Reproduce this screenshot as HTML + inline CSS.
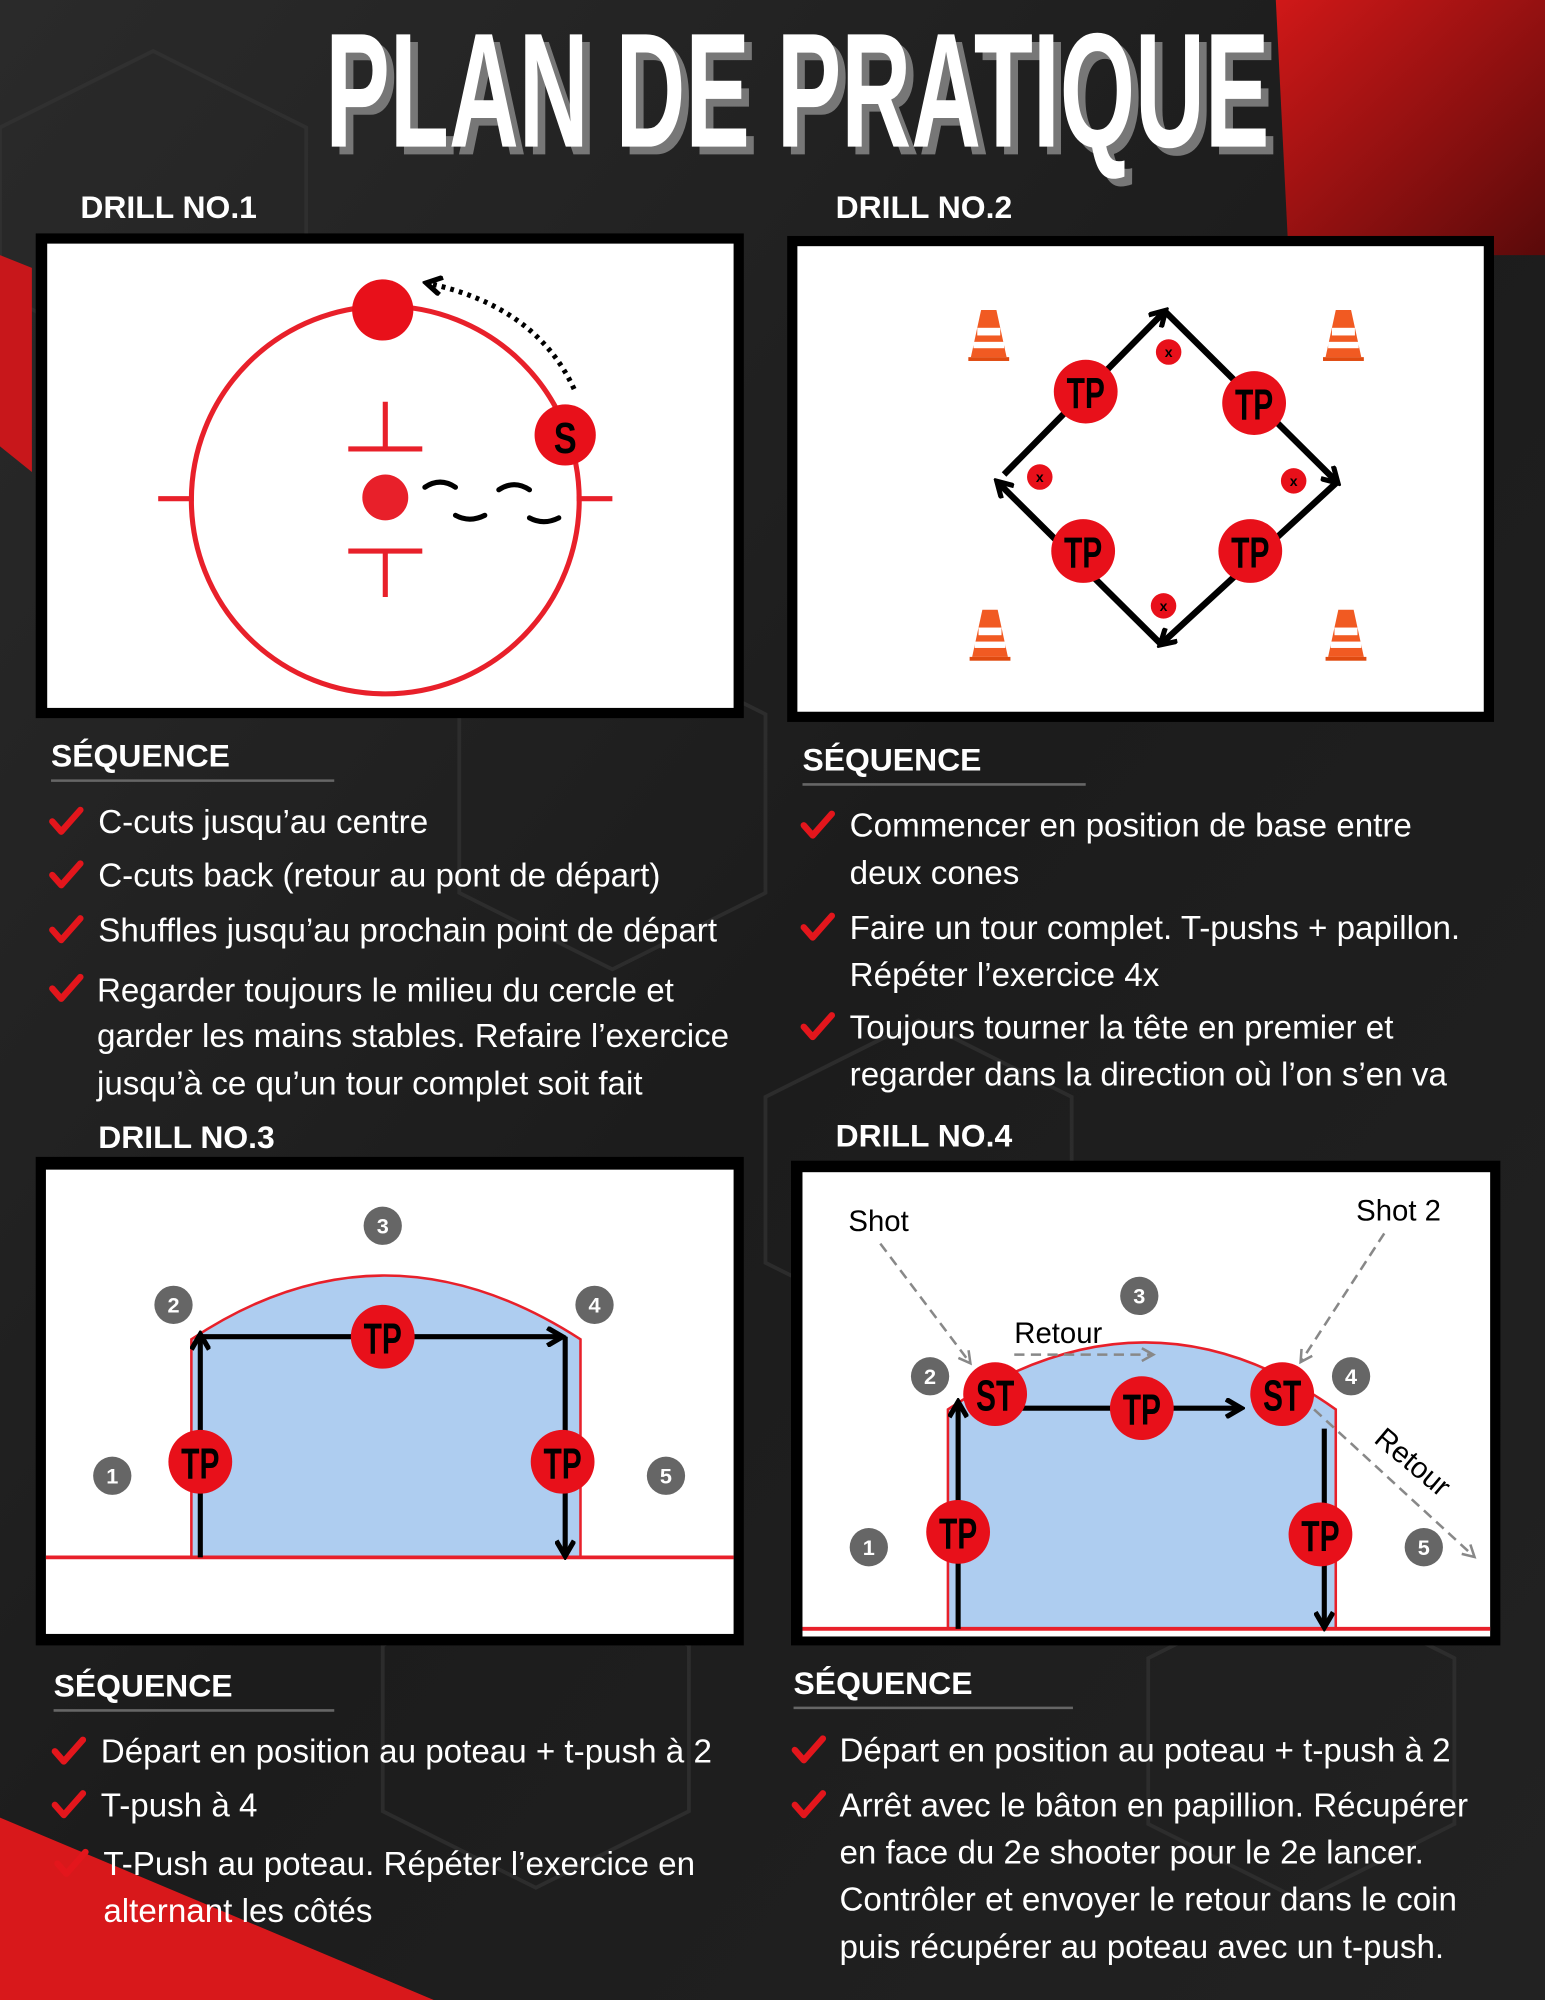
<!DOCTYPE html>
<html><head><meta charset="utf-8"><style>
html,body{margin:0;padding:0;background:#1b1b1b;}
svg{display:block;}
text{font-family:"Liberation Sans",sans-serif;}
</style></head><body>
<svg width="1545" height="2000" viewBox="0 0 1211 1568" preserveAspectRatio="none" xmlns="http://www.w3.org/2000/svg">
<defs>
<linearGradient id="bg" x1="0" y1="0" x2="1" y2="1">
<stop offset="0" stop-color="#2a2a2a"/><stop offset="0.5" stop-color="#1c1c1c"/><stop offset="1" stop-color="#222"/>
</linearGradient>
<linearGradient id="rtr" x1="0" y1="0" x2="1" y2="1">
<stop offset="0" stop-color="#d01818"/><stop offset="1" stop-color="#5a0a0a"/>
</linearGradient>
<marker id="ab" markerWidth="16" markerHeight="16" refX="12" refY="8" orient="auto" markerUnits="userSpaceOnUse"><path d="M1,1 L13,8 L1,15" fill="none" stroke="#000" stroke-width="4"/></marker>
<marker id="ag" markerWidth="12" markerHeight="12" refX="9" refY="6" orient="auto" markerUnits="userSpaceOnUse"><path d="M1,1 L10,6 L1,11" fill="none" stroke="#888" stroke-width="2"/></marker>
<g id="chk"><path d="M-11,-1 L-4,7 L11,-10" fill="none" stroke="#e3161c" stroke-width="5" stroke-linecap="round" stroke-linejoin="round"/></g>
<g id="cone"><path d="M-6,-22 L6,-22 L14,15 L-14,15Z" fill="#f15a22"/><rect x="-9" y="-8" width="18" height="6" fill="#fff"/><rect x="-12" y="3" width="24" height="5" fill="#fff"/><rect x="-16" y="15" width="32" height="3" fill="#e04a10"/></g>
</defs>
<rect width="1211" height="1568" fill="url(#bg)"/>
<g fill="none" stroke="#333" stroke-width="3" opacity="0.7">
<path d="M0,100 L120,40 L240,100 L240,230 L120,290 L0,230Z"/>
<path d="M360,560 L480,500 L600,560 L600,700 L480,760 L360,700Z"/>
<path d="M600,860 L720,800 L840,860 L840,990 L720,1050 L600,990Z"/>
<path d="M300,1290 L420,1230 L540,1290 L540,1420 L420,1480 L300,1420Z"/>
<path d="M900,1300 L1020,1240 L1140,1300 L1140,1430 L1020,1490 L900,1430Z"/>
</g>
<path d="M1000,0 L1211,0 L1211,200 L1010,200Z" fill="url(#rtr)"/>
<path d="M0,200 L25,210 L25,370 L0,350Z" fill="#c8171b"/>
<path d="M0,1425 L340,1568 L0,1568Z" fill="#d8181b"/>
<!-- title -->
<text x="631" y="121" text-anchor="middle" font-size="128" font-weight="bold" fill="#777" textLength="740" lengthAdjust="spacingAndGlyphs">PLAN DE PRATIQUE</text>
<text x="625" y="115" text-anchor="middle" font-size="128" font-weight="bold" fill="#fff" textLength="740" lengthAdjust="spacingAndGlyphs">PLAN DE PRATIQUE</text>
<!-- labels -->
<g font-size="25" font-weight="bold" fill="#fff">
<text x="63" y="171">DRILL NO.1</text>
<text x="655" y="171">DRILL NO.2</text>
<text x="77" y="900">DRILL NO.3</text>
<text x="655" y="899">DRILL NO.4</text>
<text x="40" y="601">SÉQUENCE</text>
<text x="629" y="604">SÉQUENCE</text>
<text x="42" y="1330">SÉQUENCE</text>
<text x="622" y="1328">SÉQUENCE</text>
</g>
<g stroke="#666" stroke-width="2">
<line x1="40" y1="612" x2="262" y2="612"/><line x1="629" y1="615" x2="851" y2="615"/>
<line x1="42" y1="1341" x2="262" y2="1341"/><line x1="622" y1="1339" x2="841" y2="1339"/>
</g>
<!-- boxes -->
<rect x="28" y="183" width="555" height="380" fill="#000"/><rect x="37" y="191" width="538" height="364" fill="#fff"/>
<rect x="617" y="185" width="554" height="381" fill="#000"/><rect x="625" y="193" width="538" height="365" fill="#fff"/>
<rect x="28" y="907" width="555" height="383" fill="#000"/><rect x="36" y="917" width="539" height="364" fill="#fff"/>
<rect x="620" y="910" width="556" height="380" fill="#000"/><rect x="629" y="919" width="539" height="364" fill="#fff"/>
<!-- drill1 -->
<g stroke="#e8202a" stroke-width="4" fill="none">
<circle cx="302" cy="392" r="152"/>
<line x1="124" y1="391" x2="152" y2="391"/><line x1="452" y1="391" x2="480" y2="391"/>
<line x1="273" y1="352" x2="331" y2="352"/><line x1="302" y1="315" x2="302" y2="352"/>
<line x1="273" y1="432" x2="331" y2="432"/><line x1="302" y1="432" x2="302" y2="468"/>
</g>
<circle cx="300" cy="243" r="24" fill="#e8101a"/>
<circle cx="302" cy="390" r="18" fill="#e8202a"/>
<circle cx="443" cy="341" r="24" fill="#e8101a"/>
<text x="443" y="355" text-anchor="middle" font-size="34" font-weight="bold" fill="#000" textLength="18" lengthAdjust="spacingAndGlyphs">S</text>
<path d="M450,305 Q420,240 335,222" fill="none" stroke="#000" stroke-width="4" stroke-dasharray="3,4" marker-end="url(#ab)"/>
<g fill="none" stroke="#000" stroke-width="4" stroke-linecap="round">
<path d="M333,382 Q345,374 357,382"/><path d="M357,404 Q368,410 380,404"/>
<path d="M391,384 Q403,376 415,384"/><path d="M415,406 Q426,412 438,406"/>
</g>
<!-- drill2 -->
<g stroke="#000" stroke-width="5" fill="none" marker-end="url(#ab)">
<line x1="787" y1="372" x2="913" y2="244"/>
<line x1="913" y1="244" x2="1048" y2="378"/>
<line x1="1048" y1="378" x2="910" y2="505"/>
<line x1="910" y1="505" x2="782" y2="378"/>
</g>
<g fill="#e8101a">
<circle cx="851" cy="307" r="25"/><circle cx="983" cy="316" r="25"/><circle cx="849" cy="432" r="25"/><circle cx="980" cy="432" r="25"/>
<circle cx="916" cy="276" r="10"/><circle cx="815" cy="374" r="10"/><circle cx="1014" cy="377" r="10"/><circle cx="912" cy="475" r="10"/>
</g>
<g font-size="34" font-weight="bold" fill="#000" text-anchor="middle">
<text x="851" y="320" textLength="30" lengthAdjust="spacingAndGlyphs">TP</text>
<text x="983" y="329" textLength="30" lengthAdjust="spacingAndGlyphs">TP</text>
<text x="849" y="445" textLength="30" lengthAdjust="spacingAndGlyphs">TP</text>
<text x="980" y="445" textLength="30" lengthAdjust="spacingAndGlyphs">TP</text>
</g>
<g font-size="11" font-weight="bold" fill="#000" text-anchor="middle">
<text x="916" y="280">x</text><text x="815" y="378">x</text><text x="1014" y="381">x</text><text x="912" y="479">x</text>
</g>
<use href="#cone" x="775" y="265"/><use href="#cone" x="1053" y="265"/><use href="#cone" x="776" y="500"/><use href="#cone" x="1055" y="500"/>
<!-- drill3 -->
<path d="M150,1221 L150,1050 Q300,950 455,1050 L455,1221Z" fill="#aecdf0" stroke="#e8202a" stroke-width="2"/>
<line x1="36" y1="1221" x2="575" y2="1221" stroke="#e8202a" stroke-width="3"/>
<g stroke="#000" stroke-width="4" fill="none">
<line x1="157" y1="1221" x2="157" y2="1047" marker-end="url(#ab)"/>
<line x1="157" y1="1048" x2="440" y2="1048" marker-end="url(#ab)"/>
<line x1="443" y1="1048" x2="443" y2="1219" marker-end="url(#ab)"/>
</g>
<g fill="#e8101a"><circle cx="300" cy="1048" r="25"/><circle cx="157" cy="1146" r="25"/><circle cx="441" cy="1146" r="25"/></g>
<g font-size="34" font-weight="bold" fill="#000" text-anchor="middle">
<text x="300" y="1061" textLength="30" lengthAdjust="spacingAndGlyphs">TP</text>
<text x="157" y="1159" textLength="30" lengthAdjust="spacingAndGlyphs">TP</text>
<text x="441" y="1159" textLength="30" lengthAdjust="spacingAndGlyphs">TP</text>
</g>
<g fill="#666"><circle cx="300" cy="961" r="15"/><circle cx="136" cy="1023" r="15"/><circle cx="466" cy="1023" r="15"/><circle cx="88" cy="1157" r="15"/><circle cx="522" cy="1157" r="15"/></g>
<g font-size="17" font-weight="bold" fill="#fff" text-anchor="middle">
<text x="300" y="967">3</text><text x="136" y="1029">2</text><text x="466" y="1029">4</text><text x="88" y="1163">1</text><text x="522" y="1163">5</text>
</g>
<!-- drill4 -->
<path d="M743,1277 L743,1105 Q900,1000 1047,1105 L1047,1277Z" fill="#aecdf0" stroke="#e8202a" stroke-width="2"/>
<line x1="629" y1="1277" x2="1168" y2="1277" stroke="#e8202a" stroke-width="3"/>
<g stroke="#000" stroke-width="4" fill="none">
<line x1="751" y1="1277" x2="751" y2="1100" marker-end="url(#ab)"/>
<line x1="800" y1="1104" x2="972" y2="1104" marker-end="url(#ab)"/>
<line x1="1038" y1="1120" x2="1038" y2="1275" marker-end="url(#ab)"/>
</g>
<g stroke="#888" stroke-width="2" fill="none" stroke-dasharray="8,5">
<line x1="690" y1="975" x2="760" y2="1068" marker-end="url(#ag)"/>
<line x1="1085" y1="967" x2="1020" y2="1067" marker-end="url(#ag)"/>
<line x1="795" y1="1062" x2="903" y2="1062" marker-end="url(#ag)"/>
<line x1="1030" y1="1105" x2="1155" y2="1220" marker-end="url(#ag)"/>
</g>
<g fill="#e8101a"><circle cx="780" cy="1093" r="25"/><circle cx="1005" cy="1093" r="25"/><circle cx="895" cy="1104" r="25"/><circle cx="751" cy="1201" r="25"/><circle cx="1035" cy="1203" r="25"/></g>
<g font-size="34" font-weight="bold" fill="#000" text-anchor="middle">
<text x="780" y="1106" textLength="30" lengthAdjust="spacingAndGlyphs">ST</text>
<text x="1005" y="1106" textLength="30" lengthAdjust="spacingAndGlyphs">ST</text>
<text x="895" y="1117" textLength="30" lengthAdjust="spacingAndGlyphs">TP</text>
<text x="751" y="1214" textLength="30" lengthAdjust="spacingAndGlyphs">TP</text>
<text x="1035" y="1216" textLength="30" lengthAdjust="spacingAndGlyphs">TP</text>
</g>
<g fill="#666"><circle cx="893" cy="1016" r="15"/><circle cx="729" cy="1079" r="15"/><circle cx="1059" cy="1079" r="15"/><circle cx="681" cy="1213" r="15"/><circle cx="1116" cy="1213" r="15"/></g>
<g font-size="17" font-weight="bold" fill="#fff" text-anchor="middle">
<text x="893" y="1022">3</text><text x="729" y="1085">2</text><text x="1059" y="1085">4</text><text x="681" y="1219">1</text><text x="1116" y="1219">5</text>
</g>
<g font-size="23" fill="#000">
<text x="665" y="965">Shot</text><text x="1063" y="957">Shot 2</text><text x="795" y="1053">Retour</text>
<text transform="translate(1076,1130) rotate(40)">Retour</text>
</g>
<!-- bullets -->
<g font-size="26" fill="#fff">
<text x="77" y="653">C-cuts jusqu’au centre</text>
<text x="77" y="695">C-cuts back (retour au pont de départ)</text>
<text x="77" y="738">Shuffles jusqu’au prochain point de départ</text>
<text x="76" y="785">Regarder toujours le milieu du cercle et</text>
<text x="76" y="821">garder les mains stables. Refaire l’exercice</text>
<text x="76" y="858">jusqu’à ce qu’un tour complet soit fait</text>
<text x="666" y="656">Commencer en position de base entre</text>
<text x="666" y="693">deux cones</text>
<text x="666" y="736">Faire un tour complet. T-pushs + papillon.</text>
<text x="666" y="773">Répéter l’exercice 4x</text>
<text x="666" y="814">Toujours tourner la tête en premier et</text>
<text x="666" y="851">regarder dans la direction où l’on s’en va</text>
<text x="79" y="1382">Départ en position au poteau + t-push à 2</text>
<text x="79" y="1424">T-push à 4</text>
<text x="81" y="1470">T-Push au poteau. Répéter l’exercice en</text>
<text x="81" y="1507">alternant les côtés</text>
<text x="658" y="1381">Départ en position au poteau + t-push à 2</text>
<text x="658" y="1424">Arrêt avec le bâton en papillion. Récupérer</text>
<text x="658" y="1461">en face du 2e shooter pour le 2e lancer.</text>
<text x="658" y="1498">Contrôler et envoyer le retour dans le coin</text>
<text x="658" y="1535">puis récupérer au poteau avec un t-push.</text>
</g>
<use href="#chk" x="52" y="645"/><use href="#chk" x="52" y="687"/><use href="#chk" x="52" y="730"/><use href="#chk" x="52" y="776"/>
<use href="#chk" x="641" y="648"/><use href="#chk" x="641" y="728"/><use href="#chk" x="641" y="806"/>
<use href="#chk" x="54" y="1374"/><use href="#chk" x="54" y="1416"/><use href="#chk" x="56" y="1462"/>
<use href="#chk" x="634" y="1373"/><use href="#chk" x="634" y="1416"/>
</svg>
</body></html>
